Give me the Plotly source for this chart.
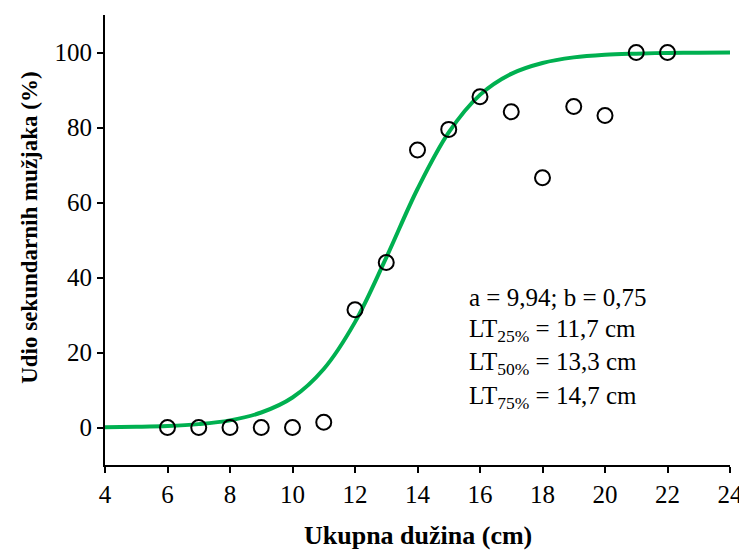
import plotly.graph_objects as go

# observed proportions
length_cm = [6, 7, 8, 9, 10, 11, 12, 13, 14, 15, 16, 17, 18, 19, 20, 21, 22]
pct_males = [0, 0, 0, 0, 0, 1.4, 31.4, 44, 74, 79.5, 88.2, 84.2, 66.6, 85.6, 83.2, 100, 100]

# fitted logistic curve
curve_x = [4, 5, 6, 7, 8, 9, 10, 11, 12, 13, 14, 15, 16, 17, 18, 19, 20, 21, 22, 23, 24]
curve_y = [0.1, 0.2, 0.4, 0.9, 1.9, 4.0, 8.0, 15.6, 28.1, 45.3, 63.6, 78.7, 88.7, 94.3,
           97.2, 98.7, 99.4, 99.7, 99.9, 99.95, 100]

x_ticks = [4, 6, 8, 10, 12, 14, 16, 18, 20, 22, 24]
y_ticks = [0, 20, 40, 60, 80, 100]

info_lines = [
    "a = 9,94; b = 0,75",
    "LT<sub>25%</sub> = 11,7 cm",
    "LT<sub>50%</sub> = 13,3 cm",
    "LT<sub>75%</sub> = 14,7 cm",
]

GREEN = "#00B050"
FONT = "'Liberation Serif', 'Times New Roman', Times, serif"

fig = go.Figure()
fig.add_trace(go.Scatter(
    x=curve_x, y=curve_y, mode="lines",
    line=dict(color=GREEN, width=4, shape="spline", smoothing=1.0),
    showlegend=False, hoverinfo="skip",
))
fig.add_trace(go.Scatter(
    x=length_cm, y=pct_males, mode="markers",
    marker=dict(symbol="circle-open", size=15, color="black", line=dict(width=2, color="black")),
    showlegend=False,
))

# one annotation per line so the line spacing matches
for i, line in enumerate(info_lines):
    fig.add_annotation(
        x=0.579, y=0.373 - i * 0.074, xref="paper", yref="paper",
        xanchor="left", yanchor="middle", align="left", showarrow=False,
        text=line, font=dict(family=FONT, size=25, color="black"),
    )

# axis titles as annotations (automargin off)
fig.add_annotation(
    x=0.5, y=-0.156, xref="paper", yref="paper", xanchor="center", yanchor="middle",
    showarrow=False, text="<b>Ukupna dužina (cm)</b>",
    font=dict(family=FONT, size=26, color="black"),
)
fig.add_annotation(
    x=0, y=0.527, xref="paper", yref="paper", xanchor="center", yanchor="middle",
    xshift=-75, textangle=-90, showarrow=False, text="<b>Udio sekundarnih mužjaka (%)</b>",
    font=dict(family=FONT, size=23, color="black"),
)

# page body has an 8px margin, so the figure is shifted by 8px
fig.update_layout(
    width=739, height=545,
    margin=dict(l=97, r=17, t=7, b=88),
    plot_bgcolor="white", paper_bgcolor="white",
    font=dict(family=FONT, size=25, color="black"),
)
fig.update_xaxes(
    range=[4, 24], tickvals=x_ticks, showgrid=False, zeroline=False,
    showline=True, linecolor="black", linewidth=2, automargin=False,
    ticks="outside", ticklen=6, tickwidth=2, tickcolor="black",
    tickfont=dict(family=FONT, size=25),
)
fig.update_yaxes(
    range=[-10, 110], tickvals=y_ticks, showgrid=False, zeroline=False,
    showline=True, linecolor="black", linewidth=2, automargin=False,
    ticks="outside", ticklen=6, tickwidth=2, tickcolor="black",
    tickfont=dict(family=FONT, size=25),
)

fig.write_html("out.html")
